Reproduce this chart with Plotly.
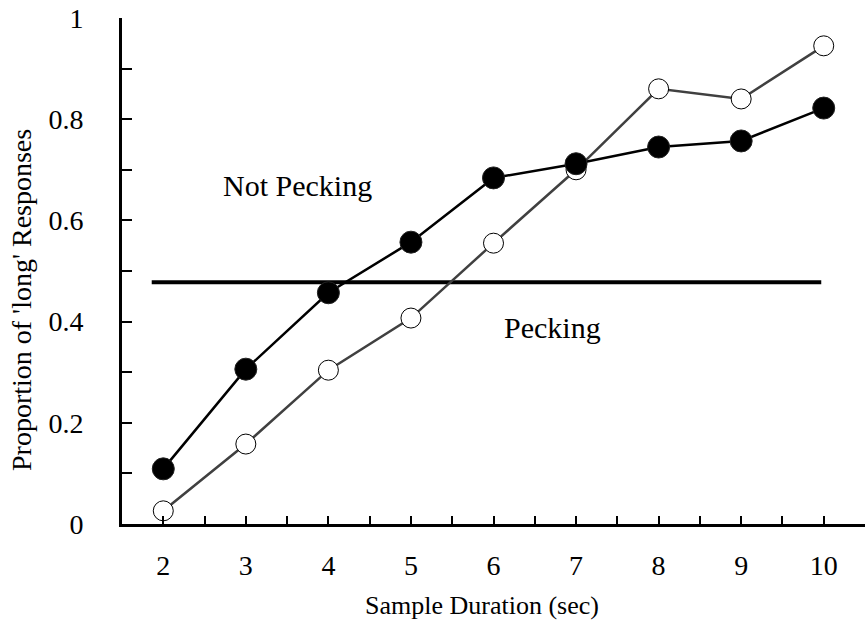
import plotly.graph_objects as go

durations = [2, 3, 4, 5, 6, 7, 8, 9, 10]
not_pecking = [0.109, 0.306, 0.457, 0.557, 0.684, 0.712, 0.745, 0.757, 0.822]
pecking = [0.026, 0.158, 0.304, 0.407, 0.555, 0.700, 0.860, 0.840, 0.945]
criterion_x = [1.86, 9.97]
criterion_y = [0.478, 0.478]

y_tickvals = [0, 0.1, 0.2, 0.3, 0.4, 0.5, 0.6, 0.7, 0.8, 0.9, 1.0]
y_ticktext = ["0", "", "0.2", "", "0.4", "", "0.6", "", "0.8", "", "1"]
x_tickvals = [2, 2.5, 3, 3.5, 4, 4.5, 5, 5.5, 6, 6.5, 7, 7.5, 8, 8.5, 9, 9.5, 10, 10.5]
x_ticktext = ["2", "", "3", "", "4", "", "5", "", "6", "", "7", "", "8", "", "9", "", "10", ""]

FONT = "Liberation Serif, Times New Roman, serif"

W, H = 866, 628
L, R, T, B = 122, 1, 18, 104
pw, ph = W - L - R, H - T - B


def px_to_paper(px, py):
    return (px - L) / pw, (H - B - py) / ph


fig = go.Figure()
fig.add_trace(go.Scatter(x=criterion_x, y=criterion_y, mode="lines",
                         line=dict(color="black", width=4), showlegend=False,
                         hoverinfo="skip"))
fig.add_trace(go.Scatter(x=durations, y=pecking, mode="lines+markers",
                         line=dict(color="#404040", width=2.5),
                         marker=dict(size=20, color="white",
                                     line=dict(color="black", width=1)),
                         showlegend=False, cliponaxis=False))
fig.add_trace(go.Scatter(x=durations, y=not_pecking, mode="lines+markers",
                         line=dict(color="black", width=2.5),
                         marker=dict(size=22, color="black",
                                     line=dict(color="#222222", width=1)),
                         showlegend=False, cliponaxis=False))

fig.add_annotation(x=3.63, y=0.668, xref="x", yref="y", text="Not Pecking",
                   showarrow=False, font=dict(family=FONT, size=30, color="black"))
fig.add_annotation(x=6.71, y=0.389, xref="x", yref="y", text="Pecking",
                   showarrow=False, font=dict(family=FONT, size=30, color="black"))
ax, ay = px_to_paper(482, 605)
fig.add_annotation(x=ax, y=ay, xref="paper", yref="paper", text="Sample Duration (sec)",
                   xanchor="center", yanchor="middle",
                   showarrow=False, font=dict(family=FONT, size=26, color="black"))
ax, ay = px_to_paper(21, 300)
fig.add_annotation(x=ax, y=ay, xref="paper", yref="paper",
                   text="Proportion of 'long' Responses", textangle=-90,
                   xanchor="center", yanchor="middle",
                   showarrow=False, font=dict(family=FONT, size=28, color="black"))

fig.update_layout(
    width=W, height=H,
    margin=dict(l=L, r=R, t=T, b=B, pad=0, autoexpand=False),
    plot_bgcolor="white", paper_bgcolor="white",
    font=dict(family=FONT, size=28, color="black"),
    xaxis=dict(range=[1.5, 10.5], showgrid=False, zeroline=False, automargin=False,
               showline=True, linecolor="black", linewidth=3,
               tickmode="array", tickvals=x_tickvals, ticktext=x_ticktext,
               ticks="inside", ticklen=8, tickwidth=2, tickcolor="black",
               ticklabelstandoff=14),
    yaxis=dict(range=[0, 1], showgrid=False, zeroline=False, automargin=False,
               showline=True, linecolor="black", linewidth=3,
               tickmode="array", tickvals=y_tickvals, ticktext=y_ticktext,
               ticks="inside", ticklen=10, tickwidth=2, tickcolor="black",
               ticklabelstandoff=30),
)

fig.write_html("out.html", config={"displayModeBar": False},
               post_script="document.body.style.margin='0';document.body.style.overflow='hidden';")
